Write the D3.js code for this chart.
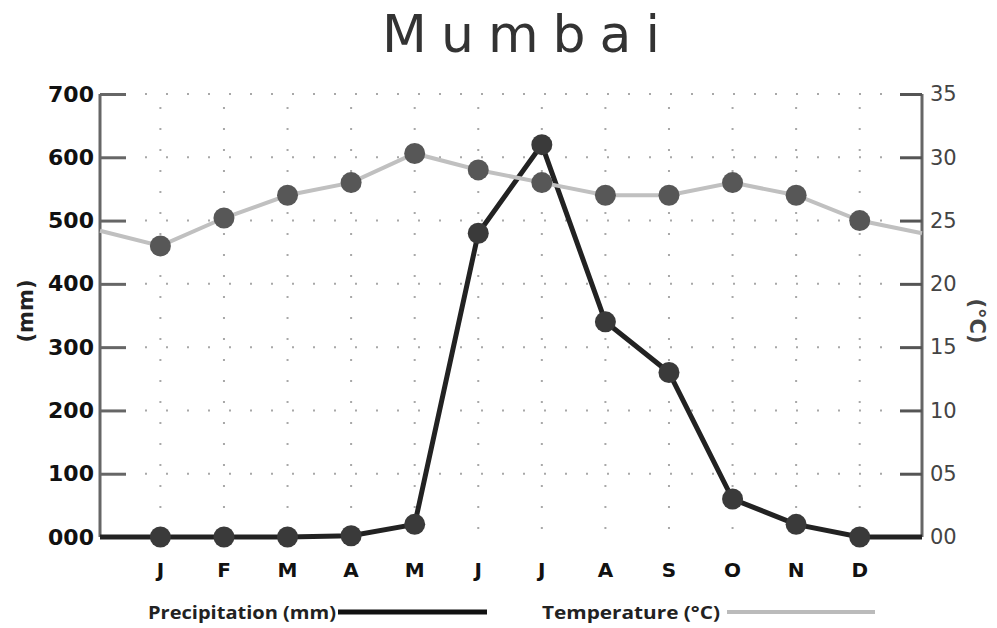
<!DOCTYPE html>
<html><head><meta charset="utf-8">
<script src="https://cdn.jsdelivr.net/npm/d3@7"></script>
<style>body{margin:0;background:#fff}svg{display:block}</style>
</head><body><div id="chart"></div>
<script>
const months = ["J","F","M","A","M","J","J","A","S","O","N","D"];
const precipitation = [0, 0, 0, 2, 20, 480, 620, 340, 260, 60, 20, 0];
const temperature = [23, 25.2, 27, 28, 30.3, 29, 28, 27, 27, 28, 27, 25];
// values where the lines meet the two axes (wrap-around between Dec and Jan)
const precipitationEdges = [0, 0];
const temperatureEdges = [24.2, 24.0];
const precipTicks = [0, 100, 200, 300, 400, 500, 600, 700];
const tempTicks = [0, 5, 10, 15, 20, 25, 30, 35];

const W = 997, H = 628;
const pLeft = 100, pRight = 922, pTop = 94, pBottom = 537;
const svg = d3.select("#chart").append("svg").attr("width", W).attr("height", H);

const x = d3.scaleLinear().domain([-0.95, 11.98]).range([pLeft, pRight]);
const yP = d3.scaleLinear().domain([0, 700]).range([pBottom, pTop]);
const yT = d3.scaleLinear().domain([0, 35]).range([pBottom, pTop]);

// grid
const grid = svg.append("g").attr("stroke", "#a8a8a8").attr("stroke-width", 2).attr("stroke-dasharray", "2,19");
grid.selectAll(".v").data(months).join("line")
  .attr("x1", (d, i) => x(i)).attr("x2", (d, i) => x(i))
  .attr("y1", pBottom - 8).attr("y2", pTop + 4);
grid.selectAll(".h").data(precipTicks.slice(1)).join("line")
  .attr("x1", pLeft + 45).attr("x2", pRight - 25)
  .attr("y1", d => yP(d)).attr("y2", d => yP(d));

// axes
const axL = svg.append("g").attr("transform", `translate(${pLeft},0)`)
  .call(d3.axisLeft(yP).tickValues(precipTicks).tickSize(-26).tickPadding(8).tickFormat(d3.format("03d")));
axL.select(".domain").attr("stroke", "#666").attr("stroke-width", 3).attr("d", `M0,${pTop}V${pBottom}`);
axL.selectAll(".tick line").attr("stroke", "#666").attr("stroke-width", 3);
axL.selectAll(".tick text").attr("x", -6).attr("font-family", "DejaVu Sans").attr("font-weight", "bold")
  .attr("font-size", 22).attr("fill", "#111");

const axR = svg.append("g").attr("transform", `translate(${pRight},0)`)
  .call(d3.axisRight(yT).tickValues(tempTicks).tickSize(-22).tickPadding(8).tickFormat(d3.format("02d")));
axR.select(".domain").attr("stroke", "#666").attr("stroke-width", 3).attr("d", `M0,${pTop}V${pBottom}`);
axR.selectAll(".tick line").attr("stroke", "#555").attr("stroke-width", 3);
axR.selectAll(".tick text").attr("x", 8).attr("font-family", "DejaVu Sans")
  .attr("font-size", 21).attr("fill", "#444");

// month labels
svg.append("g").selectAll("text").data(months).join("text")
  .attr("x", (d, i) => x(i)).attr("y", 577).attr("text-anchor", "middle")
  .attr("font-family", "DejaVu Sans").attr("font-weight", "bold").attr("font-size", 20).attr("fill", "#111")
  .text(d => d);

// lines
const pData = [[x.domain()[0], precipitationEdges[0]], ...precipitation.map((v, i) => [i, v]), [x.domain()[1], precipitationEdges[1]]];
const tData = [[x.domain()[0], temperatureEdges[0]], ...temperature.map((v, i) => [i, v]), [x.domain()[1], temperatureEdges[1]]];

svg.append("path").datum(pData).attr("fill", "none").attr("stroke", "#222").attr("stroke-width", 5)
  .attr("d", d3.line().x(d => x(d[0])).y(d => yP(d[1])));
svg.append("path").datum(tData).attr("fill", "none").attr("stroke", "#c0c0c0").attr("stroke-width", 4)
  .attr("d", d3.line().x(d => x(d[0])).y(d => yT(d[1])));

svg.append("g").selectAll("circle").data(precipitation).join("circle")
  .attr("cx", (d, i) => x(i)).attr("cy", d => yP(d)).attr("r", 10.5).attr("fill", "#3a3a3a");
svg.append("g").selectAll("circle").data(temperature).join("circle")
  .attr("cx", (d, i) => x(i)).attr("cy", d => yT(d)).attr("r", 10.5).attr("fill", "#575757");

// title
svg.append("text").attr("x", 528).attr("y", 52).attr("text-anchor", "middle")
  .attr("font-family", "DejaVu Sans").attr("font-size", 52).attr("letter-spacing", 14).attr("fill", "#333")
  .text("Mumbai");

// axis titles
svg.append("text").attr("transform", "translate(33,311) rotate(-90)").attr("text-anchor", "middle")
  .attr("font-family", "DejaVu Sans").attr("font-weight", "bold").attr("font-size", 21).attr("fill", "#222").text("(mm)");
svg.append("text").attr("transform", "translate(970,321) rotate(90)").attr("text-anchor", "middle")
  .attr("font-family", "DejaVu Sans").attr("font-weight", "bold").attr("font-size", 21).attr("fill", "#444").text("(°C)");

// legend
svg.append("text").attr("x", 148).attr("y", 619).attr("font-family", "Open Sans").attr("font-weight", "bold")
  .attr("font-size", 18).attr("fill", "#222").attr("textLength", 188).attr("lengthAdjust", "spacingAndGlyphs")
  .text("Precipitation (mm)");
svg.append("line").attr("x1", 338).attr("x2", 487).attr("y1", 612).attr("y2", 612).attr("stroke", "#111").attr("stroke-width", 5);
svg.append("text").attr("x", 542).attr("y", 619).attr("font-family", "Open Sans").attr("font-weight", "bold")
  .attr("font-size", 18).attr("fill", "#222").attr("textLength", 178).attr("lengthAdjust", "spacingAndGlyphs")
  .text("Temperature (°C)");
svg.append("line").attr("x1", 727).attr("x2", 875).attr("y1", 612).attr("y2", 612).attr("stroke", "#bbb").attr("stroke-width", 4);
</script></body></html>
